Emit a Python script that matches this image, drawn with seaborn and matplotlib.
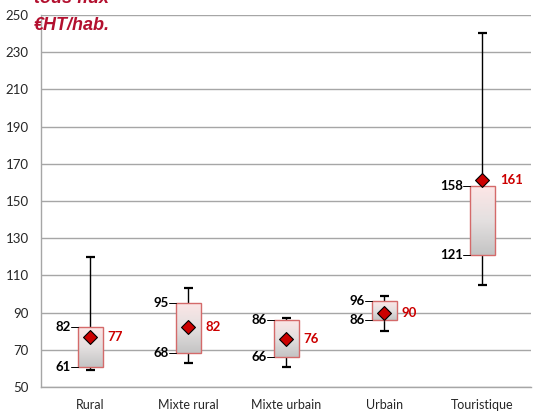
import numpy as np
import matplotlib
matplotlib.use("Agg")
import matplotlib.pyplot as plt
import seaborn as sns
from matplotlib.colors import LinearSegmentedColormap

# summary values per category
categories = ["Rural", "Mixte rural", "Mixte urbain", "Urbain", "Touristique"]
whis_low = [59, 63, 61, 80, 105]
q1 = [61, 68, 66, 86, 121]
q3 = [82, 95, 86, 96, 158]
whis_high = [120, 103, 87, 99, 240]
means = [77, 82, 76, 90, 161]

sns.set_style("white")
plt.rcParams["font.family"] = ["Lato", "DejaVu Sans"]

fig = plt.figure(figsize=(5.34, 4.13), dpi=100)
ax = fig.add_axes([0.077, 0.063, 0.918, 0.901])

pos = np.arange(len(categories))
box_w = 0.255
cap_w = 0.09
grid_col = "#a6a6a6"

# whiskers + caps
ax.vlines(pos, whis_low, whis_high, color="black", lw=1, zorder=2)
ax.hlines(whis_low, pos - cap_w / 2, pos + cap_w / 2, color="black", lw=1.6, zorder=2)
ax.hlines(whis_high, pos - cap_w / 2, pos + cap_w / 2, color="black", lw=1.6, zorder=2)

# boxes with a pink -> grey gradient
grad = LinearSegmentedColormap.from_list("box", ["#c4c4c4", "#e4e0e0", "#fde6e6"])
heights = [b - a for a, b in zip(q1, q3)]
bars = ax.bar(pos, heights, bottom=q1, width=box_w, facecolor="none",
              edgecolor="#d46a6a", lw=1, zorder=4)
for bar in bars:
    x0, y0 = bar.get_x(), bar.get_y()
    img = ax.imshow(np.linspace(0, 1, 100).reshape(-1, 1), cmap=grad, origin="lower",
                    aspect="auto", extent=(x0, x0 + bar.get_width(), y0, y0 + bar.get_height()),
                    zorder=3)
    img.set_clip_path(bar)

# means
sns.scatterplot(x=pos, y=means, marker="D", s=50, color="#cc0000", edgecolor="black",
                linewidth=0.8, zorder=5, ax=ax, legend=False)

# labels
for i in pos:
    left = i - box_w / 2
    ax.text(i + box_w / 2 + 0.05, means[i], f"{means[i]}", color="#cc0000",
            fontsize=9.5, fontweight="bold", va="center", ha="left", zorder=6)
    for v in (q1[i], q3[i]):
        ax.text(left - 0.07, v, f"{v}", color="black", fontsize=9.5,
                fontweight="bold", va="center", ha="right", zorder=6)
        ax.plot([left - 0.065, left], [v, v], color="black", lw=0.7, zorder=6)

# axes styling
ax.set_xlim(-0.5, len(categories) - 0.5)
ax.set_ylim(50, 250)
ax.set_yticks(np.arange(50, 251, 20))
ax.set_xticks(pos)
ax.set_xticklabels(categories)
ax.set_xticks(np.arange(-0.5, len(categories)), minor=True)
ax.tick_params(axis="x", which="major", length=0, labelsize=9, pad=9)
ax.tick_params(axis="x", which="minor", length=4, color=grid_col, width=1, direction="out")
ax.tick_params(axis="y", length=5, color=grid_col, width=1, direction="out",
               labelsize=9.5, pad=4)
ax.yaxis.grid(True, color=grid_col, lw=1)
ax.set_axisbelow(True)
for side in ("top", "right"):
    ax.spines[side].set_visible(False)
for side in ("left", "bottom"):
    ax.spines[side].set_color(grid_col)
    ax.spines[side].set_linewidth(1)

# title, partly cut off at the top like the original
title_kw = dict(color="#b3102f", fontsize=13, fontweight="bold", fontstyle="italic",
                family=["Liberation Sans", "DejaVu Sans"], va="baseline", ha="left")
fig.text(0.064, 0.993, "tous flux", **title_kw)
fig.text(0.064, 0.927, "€HT/hab.", **title_kw)

fig.savefig("out.png", dpi=100)
